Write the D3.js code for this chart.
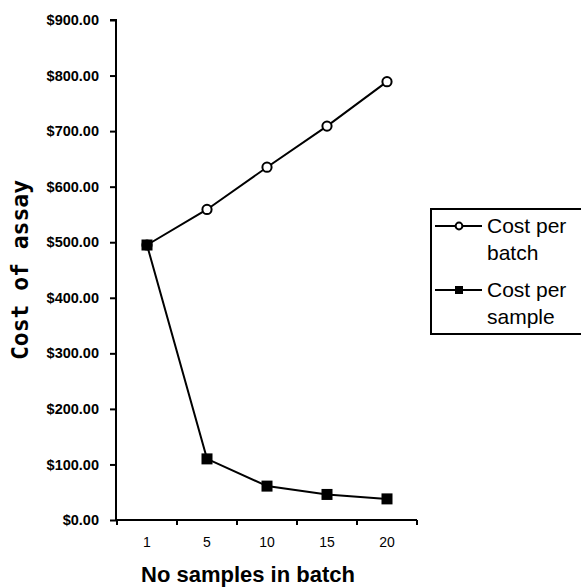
<!DOCTYPE html>
<html>
<head>
<meta charset="utf-8">
<script src="https://cdn.jsdelivr.net/npm/d3@7"></script>
<style>
  html, body { margin: 0; padding: 0; background: #fff; }
  svg { display: block; }
  text { fill: #000; }
</style>
</head>
<body>
<svg id="chart" width="581" height="587"></svg>
<script>
// ---- data ----
const categories = ["1", "5", "10", "15", "20"];
const costPerBatch = [495, 559, 635, 709, 789];
const costPerSample = [495, 110, 61, 46, 38];
const yTicks = [0, 100, 200, 300, 400, 500, 600, 700, 800, 900];
const seriesNames = ["Cost per batch", "Cost per sample"];
const xTitle = "No samples in batch";
const yTitle = "Cost of assay";

const svg = d3.select("#chart");
const x = d3.scaleBand().domain(categories).range([117, 417]).padding(0);
const y = d3.scaleLinear().domain([0, 900]).range([520, 20]);
const cx = c => x(c) + x.bandwidth() / 2;

// y axis
const yAxis = d3.axisLeft(y).tickValues(yTicks).tickSize(6).tickPadding(11)
  .tickFormat(d => "$" + d3.format(",.2f")(d));
const gy = svg.append("g").attr("transform", "translate(116,0)").call(yAxis);
gy.select(".domain").attr("d", "M-6,20H0V520").attr("stroke-width", 2).attr("stroke", "#000");
gy.selectAll(".tick line").attr("stroke-width", 2).attr("stroke", "#000");
gy.selectAll(".tick text").attr("font-family", "'Liberation Sans', Arial, sans-serif")
  .attr("font-size", 14.5).attr("font-weight", "bold").style("fill", "#000");

// x axis
const xAxis = d3.axisBottom(x).tickSize(0).tickPadding(17).tickSizeOuter(0);
const gx = svg.append("g").attr("transform", "translate(0,520)").call(xAxis);
gx.select(".domain").attr("d", "M116,0H417").attr("stroke-width", 2).attr("stroke", "#000");
gx.selectAll(".tick text").attr("font-family", "'Liberation Sans', Arial, sans-serif")
  .attr("font-size", 14).style("fill", "#000");
const bounds = categories.map(c => x(c)).concat([x.range()[1]]);
gx.selectAll(".bt").data(bounds).join("line").attr("class", "bt")
  .attr("x1", d => d).attr("x2", d => d).attr("y1", 0).attr("y2", 5)
  .attr("stroke", "#000").attr("stroke-width", 2);

// lines
const line = d3.line().x((d, i) => cx(categories[i])).y(d => y(d));
svg.append("path").datum(costPerBatch).attr("d", line)
  .attr("fill", "none").attr("stroke", "#000").attr("stroke-width", 2);
svg.append("path").datum(costPerSample).attr("d", line)
  .attr("fill", "none").attr("stroke", "#000").attr("stroke-width", 2);

svg.selectAll(".pb").data(costPerBatch).join("circle").attr("class", "pb")
  .attr("cx", (d, i) => cx(categories[i])).attr("cy", d => y(d)).attr("r", 4.6)
  .attr("fill", "#fff").attr("stroke", "#000").attr("stroke-width", 2);
const sq = 11;
svg.selectAll(".ps").data(costPerSample).join("rect").attr("class", "ps")
  .attr("x", (d, i) => cx(categories[i]) - sq / 2).attr("y", d => y(d) - sq / 2)
  .attr("width", sq).attr("height", sq).attr("fill", "#000");

// axis titles
svg.append("text").attr("x", 248).attr("y", 582).attr("text-anchor", "middle")
  .attr("font-family", "'Liberation Sans', Arial, sans-serif").attr("font-weight", "bold")
  .attr("font-size", 22).text(xTitle);
svg.append("text").attr("transform", "translate(28,270) rotate(-90)").attr("text-anchor", "middle")
  .attr("font-family", "'DejaVu Sans Mono', monospace").attr("font-weight", "bold")
  .attr("font-size", 23).text(yTitle);

// legend
const lg = svg.append("g");
lg.append("rect").attr("x", 431).attr("y", 209).attr("width", 160).attr("height", 125)
  .attr("fill", "#fff").attr("stroke", "#000").attr("stroke-width", 2);
const legY = [226, 290];
seriesNames.forEach((name, i) => {
  const yy = legY[i];
  lg.append("line").attr("x1", 435).attr("x2", 482).attr("y1", yy).attr("y2", yy)
    .attr("stroke", "#000").attr("stroke-width", 2);
  if (i === 0) {
    lg.append("circle").attr("cx", 459).attr("cy", yy).attr("r", 3.4)
      .attr("fill", "#fff").attr("stroke", "#000").attr("stroke-width", 2);
  } else {
    lg.append("rect").attr("x", 459 - 4).attr("y", yy - 4).attr("width", 8).attr("height", 8).attr("fill", "#000");
  }
  const words = name.split(" ");
  const t = lg.append("text").attr("font-family", "'Liberation Sans', Arial, sans-serif")
    .attr("font-size", 21);
  t.append("tspan").attr("x", 487).attr("y", yy + 7).text(words.slice(0, 2).join(" "));
  t.append("tspan").attr("x", 487).attr("y", yy + 7 + 27).text(words.slice(2).join(" "));
});
</script>
</body>
</html>
